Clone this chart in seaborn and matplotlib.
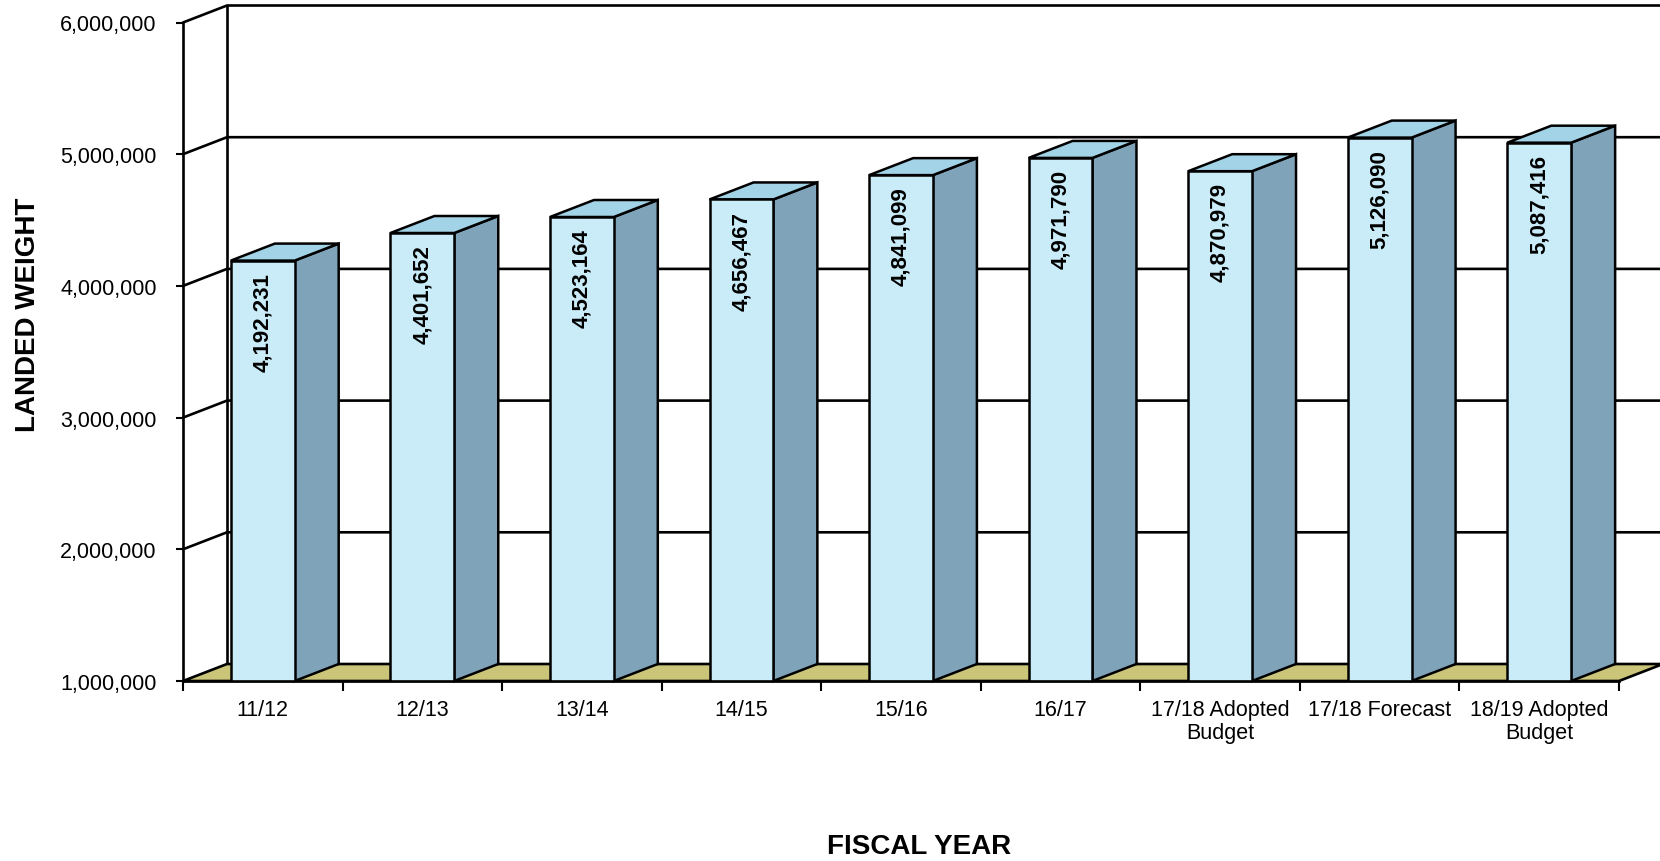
import matplotlib
matplotlib.use('Agg')
import matplotlib.pyplot as plt
from matplotlib.patches import Polygon
import seaborn as sns
import pandas as pd

# ---- data ----
fiscal_years = ['11/12', '12/13', '13/14', '14/15', '15/16', '16/17',
                '17/18 Adopted\nBudget', '17/18 Forecast', '18/19 Adopted\nBudget']
landed_weight = [4192231, 4401652, 4523164, 4656467, 4841099, 4971790,
                 4870979, 5126090, 5087416]
y_ticks = [1000000, 2000000, 3000000, 4000000, 5000000, 6000000]

FRONT = '#c9ecf8'
SIDE = '#7fa3b9'
TOP = '#a3d3e6'
FLOOR = '#cbc57a'
LW = 1.9

sns.set_theme(style='white')
plt.rcParams['font.family'] = ['Liberation Sans', 'DejaVu Sans']
plt.rcParams['text.color'] = 'black'
plt.rcParams['xtick.color'] = 'black'
plt.rcParams['ytick.color'] = 'black'

W, H = 1660, 862
fig = plt.figure(figsize=(W / 100, H / 100), dpi=100)
ax_w, ax_h = 1436, 658.5
ax = fig.add_axes([183 / W, 1 - 682 / H, ax_w / W, ax_h / H])

df = pd.DataFrame({'year': fiscal_years, 'weight': landed_weight})
sns.barplot(data=df, x='year', y='weight', width=0.4, color=FRONT, saturation=1,
            edgecolor='black', linewidth=1.8, ax=ax, zorder=3)

ymin, ymax = y_ticks[0], y_ticks[-1]
n = len(fiscal_years)
ax.set_xlim(-0.5, n - 0.5)
ax.set_ylim(ymin, ymax)

# fake 3D depth (pixels converted to data units)
dx = 44 * n / ax_w
dy = 17 * (ymax - ymin) / ax_h
half = 0.2

# back wall + left wall gridlines
for yv in y_ticks[1:]:
    ax.plot([-0.5, -0.5 + dx, n - 0.5 + dx], [yv, yv + dy, yv + dy],
            color='black', lw=LW, clip_on=False, zorder=1)
ax.plot([-0.5 + dx, -0.5 + dx], [ymin + dy, ymax + dy], color='black', lw=LW,
        clip_on=False, zorder=1)

# floor
floor = Polygon([(-0.5, ymin), (n - 0.5, ymin), (n - 0.5 + dx, ymin + dy), (-0.5 + dx, ymin + dy)],
                closed=True, facecolor=FLOOR, edgecolor='black', lw=LW, clip_on=False, zorder=1.5)
ax.add_patch(floor)

# side and top faces of each bar
for i, v in enumerate(landed_weight):
    xr, xl = i + half, i - half
    side = Polygon([(xr, ymin), (xr, v), (xr + dx, v + dy), (xr + dx, ymin + dy)],
                   closed=True, facecolor=SIDE, edgecolor='black', lw=1.8, clip_on=False, zorder=2.5)
    top = Polygon([(xl, v), (xr, v), (xr + dx, v + dy), (xl + dx, v + dy)],
                  closed=True, facecolor=TOP, edgecolor='black', lw=1.8, clip_on=False, zorder=2.5)
    ax.add_patch(side)
    ax.add_patch(top)
    ax.annotate(f'{v:,}', (i, v), xytext=(0, -8), textcoords='offset points',
                rotation=90, ha='center', va='top', fontsize=16, fontweight='bold', zorder=5)

# axes styling
for s in ['top', 'right']:
    ax.spines[s].set_visible(False)
for s in ['left', 'bottom']:
    ax.spines[s].set_color('black')
    ax.spines[s].set_linewidth(LW)
    ax.spines[s].set_zorder(6)
ax.grid(False)

ax.set_yticks(y_ticks)
ax.set_yticklabels([f'{v:,}' for v in y_ticks])
ax.tick_params(axis='y', left=True, length=5, width=1.5, pad=14, labelsize=15.5)

ax.set_xticks(range(n))
ax.set_xticklabels(fiscal_years, linespacing=1.1)
ax.set_xticks([i - 0.5 for i in range(n + 1)], minor=True)
ax.tick_params(axis='x', which='major', length=0, pad=13, labelsize=15.5)
ax.tick_params(axis='x', which='minor', bottom=True, length=7, width=1.5)
ax.set_xlabel('')
ax.set_ylabel('')

fig.text(28 / W, 1 - 315 / H, 'LANDED WEIGHT', rotation=90, ha='center', va='center',
         fontsize=20, fontweight='bold')
fig.text(919 / W, 1 - 847 / H, 'FISCAL YEAR', ha='center', va='center',
         fontsize=20, fontweight='bold')

fig.savefig('out.png', dpi=100)
